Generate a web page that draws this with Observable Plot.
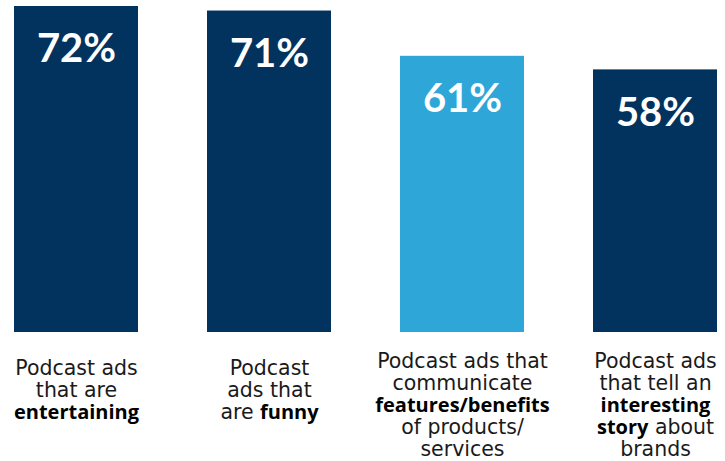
<!DOCTYPE html>
<html>
<head>
<meta charset="utf-8">
<script src="https://cdn.jsdelivr.net/npm/d3@7"></script>
<script src="https://cdn.jsdelivr.net/npm/@observablehq/plot@0.6"></script>
<style>
  html, body { margin: 0; padding: 0; background: #fff; }
  svg { display: block; }
</style>
</head>
<body>
<div id="chart"></div>
<script>
const categories = ["entertaining", "funny", "features", "story"];
const values = [72, 71, 61, 58];
const valueLabels = ["72%", "71%", "61%", "58%"];
const categoryLabels = [
  "Podcast ads\nthat are\n**entertaining**",
  "Podcast\nads that\nare **funny**",
  "Podcast ads that\ncommunicate\n**features/benefits**\nof products/\nservices",
  "Podcast ads\nthat tell an\n**interesting**\n**story** about\nbrands"
];
const barColors = ["#02335f", "#02335f", "#2ea6d8", "#02335f"];

const data = categories.map((c, i) => ({
  category: c, value: values[i], valueLabel: valueLabels[i], label: categoryLabels[i],
  lines: categoryLabels[i].split("\n").length
}));

const font = "'DejaVu Sans', sans-serif";

const chart = Plot.plot({
  width: 725,
  height: 461,
  marginTop: 6,
  marginBottom: 129,
  marginLeft: 13,
  marginRight: 7,
  x: { domain: categories, paddingInner: 0.36, paddingOuter: 0, axis: null },
  y: { domain: [0, 72], axis: null },
  color: { domain: categories, range: barColors },
  marks: [
    Plot.barY(data, { x: "category", y: "value", fill: "category" }),
    Plot.text(data, {
      x: "category", y: "value", text: "valueLabel",
      fill: "white", fontSize: 40, fontWeight: "bold",
      fontFamily: "Lato, 'Open Sans', sans-serif",
      lineAnchor: "middle", dy: 43
    }),
    Plot.text(data.filter(d => d.lines <= 3), {
      x: "category", text: "label", frameAnchor: "bottom",
      lineAnchor: "top", dy: 27, lineHeight: 1.07,
      fontSize: 20.5, fill: "#1a1a1a", fontFamily: font
    }),
    Plot.text(data.filter(d => d.lines > 3), {
      x: "category", text: "label", frameAnchor: "bottom",
      lineAnchor: "top", dy: 20, lineHeight: 1.07,
      fontSize: 20.5, fill: "#1a1a1a", fontFamily: font
    })
  ]
});

// Convert **bold** markers into bold tspans
chart.querySelectorAll("text").forEach(t => {
  const targets = t.querySelectorAll("tspan").length ? t.querySelectorAll("tspan") : [t];
  targets.forEach(el => {
    const s = el.textContent;
    if (!s.includes("**")) return;
    const parts = s.split("**");
    el.textContent = "";
    parts.forEach((p, i) => {
      if (!p) return;
      const ts = document.createElementNS("http://www.w3.org/2000/svg", "tspan");
      ts.textContent = p;
      if (i % 2 === 1) {
        ts.setAttribute("font-weight", "bold");
        ts.setAttribute("font-family", "'Open Sans', sans-serif");
        ts.setAttribute("font-size", "20");
        ts.setAttribute("fill", "#000");
      }
      el.appendChild(ts);
    });
  });
});

document.getElementById("chart").appendChild(chart);
</script>
</body>
</html>
